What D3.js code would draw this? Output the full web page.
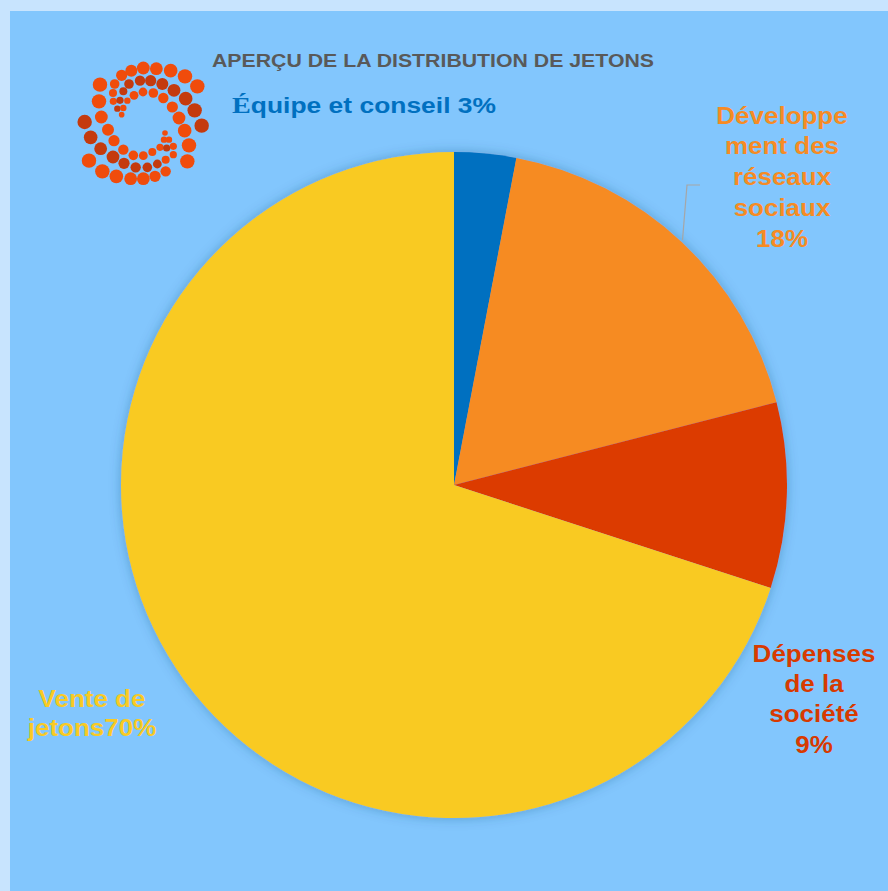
<!DOCTYPE html>
<html>
<head>
<meta charset="utf-8">
<script src="https://cdn.jsdelivr.net/npm/d3@7"></script>
<style>
  html, body { margin: 0; padding: 0; background: #c8e4fe; }
  svg { display: block; }
</style>
</head>
<body>
<svg id="chart" width="888" height="891"></svg>
<script>
// ---- data ----
const categories = ["Équipe et conseil", "Développement des réseaux sociaux", "Dépenses de la société", "Vente de jetons"];
const values = [3, 18, 9, 70];
const colors = ["#0070c0", "#f68b24", "#dc3a00", "#f9ca24"];
const labelLines = [
  ["Équipe et conseil 3%"],
  ["Développe", "ment des", "réseaux", "sociaux", "18%"],
  ["Dépenses", "de la", "société", "9%"],
  ["Vente de", "jetons70%"]
];
const labelColors = ["#0070c0", "#f68b24", "#d83a00", "#f9ca24"];
const title = "APERÇU DE LA DISTRIBUTION DE JETONS";

// logo dots (decoration): x, y, r in 3x zoom coordinates, dark flag
const logoDots = [
  [370,85,18,0],[362,157,18,1],[383,203,18,1],[345,262,18,0],[340,310,18,0],
  [143,52,14,0],[172,38,15,0],[208,30,16,0],[247,32,16,0],[290,38,17,0],[333,55,18,0],
  [122,78,12,0],[165,78,12,1],[198,68,13,1],[230,68,14,1],[265,78,15,1],[300,97,16,1],[335,122,17,1],
  [117,105,10,0],[148,100,10,1],[180,112,11,0],[207,102,11,0],[238,105,12,0],[268,120,13,0],[295,147,14,0],[315,180,16,0],[332,218,17,0],
  [118,130,9,0],[138,127,9,1],[160,128,8,0],[130,152,8,1],[148,150,8,0],[143,170,7,0],
  [78,80,18,0],[75,130,18,0],[32,192,18,1],[50,238,17,1],[45,308,18,0],[85,340,18,0],[127,355,17,0],[170,362,16,0],[208,362,16,0],[243,355,14,0],[275,340,13,0],
  [82,177,16,0],[102,215,15,0],[80,272,16,1],[117,297,16,1],[150,316,14,1],[185,328,13,1],[220,328,12,1],[250,318,11,1],[275,305,10,0],[298,290,9,0],
  [120,248,14,0],[148,275,13,0],[178,292,12,0],[208,293,11,0],[235,282,10,0],[258,268,9,0],[278,270,9,1],[298,265,9,0],[270,245,8,0],[285,245,8,0],[273,225,7,0]
];

// ---- drawing ----
const svg = d3.select("#chart");
const defs = svg.append("defs");
const f = defs.append("filter").attr("id", "shadow")
  .attr("x", "-10%").attr("y", "-10%").attr("width", "120%").attr("height", "120%");
f.append("feGaussianBlur").attr("in", "SourceAlpha").attr("stdDeviation", 6).attr("result", "b");
f.append("feFlood").attr("flood-color", "#1f4e79").attr("flood-opacity", 0.35).attr("result", "c");
f.append("feComposite").attr("in", "c").attr("in2", "b").attr("operator", "in").attr("result", "s");
const m = f.append("feMerge");
m.append("feMergeNode").attr("in", "s");
m.append("feMergeNode").attr("in", "SourceGraphic");

// inner panel
svg.append("rect").attr("x", 10).attr("y", 11).attr("width", 878).attr("height", 880).attr("fill", "#82c6fd");

const SANS = "Liberation Sans, Arial, sans-serif";
const SERIF = "Liberation Serif, Times New Roman, serif";

// title
svg.append("text")
  .attr("x", 212).attr("y", 67)
  .attr("textLength", 442).attr("lengthAdjust", "spacingAndGlyphs")
  .attr("font-family", SANS)
  .attr("font-weight", "bold").attr("font-size", 18.5)
  .attr("fill", "#595959")
  .text(title);

// logo
const logo = svg.append("g");
logo.selectAll("circle").data(logoDots).join("circle")
  .attr("cx", d => 74 + d[0] / 3)
  .attr("cy", d => 58 + d[1] / 3)
  .attr("r", d => d[2] / 3 * 1.2)
  .attr("fill", d => d[3] ? "#c43a0e" : "#f04c0c");

// pie
const cx = 454, cy = 485, R = 333;
const pie = d3.pie().sort(null).value(d => d)(values);
const arc = d3.arc().innerRadius(0).outerRadius(R);
const g = svg.append("g").attr("transform", `translate(${cx},${cy})`);
g.append("g").attr("filter", "url(#shadow)")
  .selectAll("path").data(pie).join("path")
  .attr("d", arc)
  .attr("fill", (d, i) => colors[i]);

// leader line for social label
svg.append("polyline")
  .attr("points", "700,185 687,185 682.5,240")
  .attr("fill", "none").attr("stroke", "#a6a6a6").attr("stroke-width", 1.2);

// labels
const sx = 1.13;
// first label: É falls back to a serif glyph in the reference
{
  const line = labelLines[0][0];
  const t = svg.append("text")
    .attr("x", 232).attr("y", 113)
    .attr("textLength", 264).attr("lengthAdjust", "spacingAndGlyphs")
    .attr("font-family", SANS).attr("font-weight", "bold").attr("font-size", 21.5)
    .attr("fill", labelColors[0]);
  t.append("tspan").attr("font-family", SERIF).attr("font-size", 23).text(line.slice(0, 1));
  t.append("tspan").text(line.slice(1));
}
const labelPos = [
  null,
  {x: 782, y: 123.5, lh: 30.8},
  {x: 814, y: 661.5, lh: 30.4},
  {x: 92, y: 706.5, lh: 29}
];
labelLines.forEach((lines, i) => {
  const p = labelPos[i];
  if (!p) return;
  lines.forEach((ln, j) => {
    svg.append("text")
      .attr("font-family", SANS)
      .attr("font-weight", "bold").attr("font-size", 23)
      .attr("fill", labelColors[i])
      .attr("text-anchor", "middle")
      .attr("transform", `translate(${p.x},${p.y + j * p.lh}) scale(${sx},1)`)
      .text(ln);
  });
});
</script>
</body>
</html>
